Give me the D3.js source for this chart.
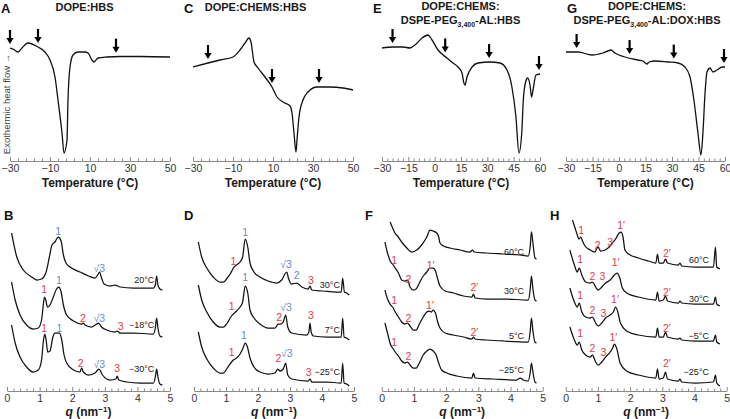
<!DOCTYPE html>
<html><head><meta charset="utf-8">
<script src="https://cdn.jsdelivr.net/npm/d3@7"></script>
<style>body{margin:0;background:#fff} svg{display:block;font-family:"Liberation Sans",Arial,sans-serif}</style>
</head><body><svg id="c" width="730" height="419"></svg>
<script>
// ---------- DSC thermograms (temperature °C, heat flow a.u.) ----------
const A_T = [-30,-28,-26,-24,-21,-16,-12.5,-10,-7.5,-6,-4,-3,-1.5,-1,0,1.5,4,7.5,9,11,12,14,18.5,25,35,50];
const A_flow = [112,110.5,108,112,117,113,108,100,83,60,27,7,20,60,93,105,108,108,107,100,98,102,103,103.5,103.5,103];
const A_arrows = [-30,-16,23];

const C_T = [-30,-22.5,-16.5,-10,-6.5,-4,-2,-1,0.5,2.5,6,9.5,12,15,18.5,19.5,20.5,21.5,22,23,25,27.5,32,38.5,45,50];
const C_flow = [93,97,100,103,110,117,122,118,98,92,83,73,63,58,54,47,27,8,20,43,60,68,73,73,72,70];
const C_arrows = [-22.5,9.5,33];

const E_T = [-30,-23.7,-18,-14,-11.2,-7.2,-3.8,-1.5,1.9,7,10.4,13.3,15.6,16.5,17.3,18.4,21.3,24.7,31.5,37.2,41.2,44,46.3,48,49.6,50.5,51.8,53,54.3,55.2,56.2,57.7,60];
const E_flow = [112,113,113,112,115,122,125,120,110,102,97,93,87,78,75,83,93,97,98,97,90,73,43,7,27,60,78,82,75,63,72,85,86];
const E_arrows = [-24,6,31,60];

const G_T = [-30,-23.2,-15.3,-9.1,-4.5,-2.3,3.4,10.7,13.6,15.8,17,20.4,27.7,33.4,37.3,40.2,42.4,44.7,46.4,47.5,48.7,49.8,51.5,53.2,55.5,58.3,60];
const G_flow = [108,108,105,107,110,107,103,100,99,96,98,99,98,97,93,83,60,27,5,27,67,88,92,88,90,93,93];
const G_arrows = [-24,6,31,60];

// ---------- SAXS profiles (q nm^-1, intensity a.u. incl. offset) ----------
const B1_q = [0.14,0.30,0.50,0.76,0.91,1.06,1.20,1.30,1.38,1.47,1.57,1.66,1.73,1.81,1.98,2.24,2.50,2.70,2.78,2.84,2.90,2.98,3.16,3.31,3.47,3.88,4.28,4.49,4.55,4.59,4.63,4.69,4.77];
const B1_I = [158,134,121,114,111,112,119,134,146,149,154,150,136,128,123,119,115,113,116,119,113,107,105,106,104,103,103,103,106,115,106,102,101];
const B2_q = [0.14,0.25,0.40,0.60,0.81,0.96,1.06,1.12,1.15,1.19,1.24,1.32,1.42,1.52,1.59,1.66,1.73,1.83,2.04,2.29,2.34,2.39,2.60,2.75,2.81,2.90,3.06,3.31,3.38,3.47,3.88,4.49,4.55,4.59,4.63,4.69,4.77];
const B2_I = [109,91,76,66,62,63,71,88,94,91,84,86,94,102,104,99,86,76,70,67,68,66,64,67,68,64,61,59,60,58,58,57,63,73,63,55,54];
const B3_q = [0.14,0.25,0.40,0.60,0.81,0.96,1.06,1.12,1.16,1.20,1.25,1.32,1.40,1.47,1.54,1.61,1.68,1.75,1.83,2.04,2.24,2.29,2.34,2.50,2.70,2.82,2.93,3.16,3.34,3.38,3.43,3.67,4.08,4.49,4.55,4.59,4.63,4.69,4.77];
const B3_I = [66,48,34,24,19,21,31,51,57,51,39,40,53,58,58,58,51,36,28,21,19,23,19,16,18,22,16,11,12,15,11,9,8,8,14,22,14,7,6];

const D1_q = [0.135,0.24,0.40,0.60,0.81,0.92,1.04,1.15,1.23,1.33,1.44,1.52,1.60,1.68,1.75,1.875,2.06,2.32,2.58,2.74,2.84,2.90,2.95,3.05,3.21,3.37,3.57,3.625,3.68,4.04,4.46,4.60,4.646,4.70,4.77,4.85];
const D1_I = [149,134,123,114,109,109,113,118,123,126,129,134,152,144,128,119,114,110,108,111,117,119,113,107,108,104,102,105,101,100,99,99,113,99,98,96];
const D2_q = [0.135,0.24,0.40,0.60,0.81,0.92,1.04,1.15,1.23,1.33,1.44,1.52,1.60,1.68,1.75,1.875,2.06,2.32,2.53,2.635,2.71,2.79,2.865,2.93,3.05,3.52,3.59,3.625,3.66,3.73,4.15,4.60,4.646,4.69,4.77,4.85];
const D2_I = [106,91,79,69,64,64,68,74,77,80,84,89,105,98,81,73,67,63,63,67,67,69,76,64,58,56,59,68,59,55,54,54,73,54,53,51];
const D3_q = [0.135,0.24,0.40,0.60,0.81,0.92,1.04,1.15,1.23,1.33,1.44,1.52,1.60,1.67,1.75,1.875,2.06,2.32,2.53,2.615,2.69,2.79,2.865,2.93,3.05,3.57,3.625,3.68,4.15,4.60,4.646,4.69,4.77,4.85];
const D3_I = [59,44,32,23,18,18,23,28,31,33,37,42,48,44,33,24,19,17,18,22,20,22,28,16,12,10,12,9,9,8,28,8,7,5];

const F1_q = [0.26,0.34,0.41,0.49,0.62,0.78,0.93,1.09,1.24,1.40,1.50,1.60,1.71,1.77,1.81,1.92,2.12,2.43,2.74,2.82,2.87,3.26,3.78,4.30,4.55,4.61,4.65,4.71,4.76,4.81];
const F1_I = [169,163,158,155,149,143,139,141,146,154,161,160,158,154,148,145,143,141,139,141,139,138,137,136,135,144,159,144,133,132];
const F2_q = [0.10,0.18,0.28,0.36,0.42,0.52,0.62,0.72,0.80,0.88,0.98,1.07,1.17,1.29,1.40,1.50,1.60,1.67,1.73,1.81,1.97,2.23,2.54,2.80,2.85,2.90,3.26,3.78,4.55,4.61,4.65,4.70,4.76,4.81];
const F2_I = [149,138,129,126,123,118,111,110,111,104,101,102,108,115,119,123,123,120,113,105,100,98,95,94,97,93,92,92,91,101,115,101,91,90];
const F3_q = [0.10,0.18,0.28,0.36,0.42,0.52,0.62,0.72,0.80,0.88,0.98,1.07,1.17,1.29,1.40,1.48,1.54,1.60,1.67,1.73,1.81,1.97,2.23,2.54,2.80,2.85,2.90,3.26,3.78,4.55,4.61,4.65,4.70,4.76,4.81];
const F3_I = [101,92,86,83,79,74,69,67,68,65,61,61,67,74,79,80,79,81,78,70,63,58,56,54,52,54,52,51,50,49,59,73,59,49,48];
const F4_q = [0.10,0.18,0.28,0.36,0.42,0.52,0.62,0.72,0.80,0.88,0.98,1.07,1.17,1.29,1.40,1.50,1.60,1.69,1.77,1.86,2.02,2.33,2.80,2.85,2.90,3.47,4.19,4.30,4.40,4.55,4.61,4.65,4.70,4.76,4.81];
const F4_I = [68,58,46,42,39,35,30,28,29,26,23,23,28,36,40,42,40,36,28,21,18,15,13,18,13,12,11,13,11,10,18,28,18,9,8];

const H1_q = [0.21,0.29,0.36,0.41,0.47,0.52,0.60,0.76,0.91,0.97,1.01,1.08,1.22,1.35,1.45,1.55,1.66,1.72,1.78,1.84,1.95,2.26,2.57,2.80,2.85,2.90,3.03,3.10,3.16,3.50,3.55,3.60,4.02,4.59,4.65,4.69,4.79];
const H1_I = [171,163,156,152,154,150,145,141,139,143,144,140,141,144,148,152,158,159,154,141,137,133,130,128,137,128,128,132,128,126,128,125,124,124,144,124,122];
const H2_q = [0.13,0.27,0.36,0.42,0.50,0.62,0.76,0.83,0.93,1.01,1.12,1.24,1.38,1.51,1.59,1.68,1.76,1.89,2.26,2.80,2.85,2.90,3.03,3.10,3.16,3.50,3.55,3.60,4.02,4.59,4.65,4.69,4.79];
const H2_I = [141,126,119,123,116,109,108,109,104,101,104,108,111,116,118,113,103,98,94,91,99,90,91,95,90,88,90,88,87,87,94,87,85];
const H3_q = [0.13,0.27,0.36,0.42,0.50,0.62,0.76,0.83,0.93,1.01,1.12,1.24,1.38,1.48,1.55,1.61,1.70,1.89,2.26,2.80,2.85,2.90,3.03,3.10,3.16,3.50,3.55,3.60,4.02,4.59,4.65,4.69,4.79];
const H3_I = [103,89,84,88,79,74,73,74,68,65,68,73,76,79,84,80,68,60,56,54,63,54,54,59,54,52,53,51,50,50,56,49,47];
const H4_q = [0.13,0.27,0.36,0.42,0.50,0.62,0.76,0.83,0.93,1.01,1.12,1.24,1.38,1.46,1.51,1.58,1.69,1.89,2.26,2.80,2.85,2.90,3.03,3.10,3.16,3.50,3.55,3.60,4.02,4.59,4.65,4.69,4.79];
const H4_I = [64,51,46,49,41,36,34,36,29,26,29,34,39,43,47,43,28,20,16,13,22,12,13,19,12,10,12,9,8,9,16,8,5];

// ---------- peak indexing labels (L = lamellar, H = hexagonal) ----------
const B_lab_q = [1.57,2.83,1.14,1.59,2.33,2.83,3.49,1.14,1.61,2.26,2.83,3.38];
const B_lab_I = [160,123,102,111,73,73,65,63,63,28,27,23];
const B_lab_text = ['1','√3','1','1','2','√3','3','1','1','2','√3','3'];
const B_lab_phase = ['H','H','L','H','L','H','L','L','H','L','H','L'];
const B_temps = ['20°C','−18°C','−30°C'];
const B_temp_I = [111,66,22];

const D_lab_q = [1.23,1.60,2.875,3.21,3.65,1.18,1.60,2.66,2.875,3.65,1.18,1.56,2.64,2.9,3.58];
const D_lab_I = [130,159,127,116,111,85,114,74,84,76,39,56,33,38,19];
const D_lab_text = ['1','1','√3','2','3','1','1','2','√3','3','1','1','2','√3','3'];
const D_lab_phase = ['L','H','H','H','L','L','H','L','H','L','L','H','L','H','L'];
const D_temps = ['30°C','7°C','−25°C'];
const D_temp_I = [106,61,19];

const F_lab_q = [0.39,0.83,1.52,2.88,0.39,0.83,1.50,2.88,0.39,0.83];
const F_lab_I = [131,112,126,104,91,73,86,59,49,35];
const F_lab_text = ['1','2','1′','2′','1','2','1′','2′','1','2'];
const F_lab_phase = ['L','L','L','L','L','L','L','L','L','L'];
const F_temps = ['60°C','30°C','5°C','−25°C'];
const F_temp_I = [139,100,55,21];

const H_lab_q = [0.48,0.99,1.38,1.72,3.14,0.45,0.83,1.14,1.55,3.14,0.45,0.83,1.17,1.53,3.14,0.45,0.83,1.17,1.48,3.14];
const H_lab_I = [161,146,149,166,138,132,115,115,129,99,96,81,78,92,63,58,43,39,54,28];
const H_lab_text = ['1','2','3','1′','2′','1','2','3','1′','2′','1','2','3','1′','2′','1','2','3','1′','2′'];
const H_lab_phase = H_lab_text.map(() => 'L');
const H_temps = ['60°C','30°C','−5°C','−25°C'];
const H_temp_I = [131,92,55,19];

// ---------- drawing ----------
const svg = d3.select('#c');
const RED = '#e23a4f', BLUE = '#7389c4', AXC = '#8a8a8a', TXT = '#1a1a1a';

function bottomAxis(g, x, y0, majorStep, minorStep) {
  const d = x.domain();
  const major = d3.range(d[0], d[1] + 1e-9, majorStep);
  const minor = d3.range(d[0], d[1] + 1e-9, minorStep).filter(v => !major.some(m => Math.abs(m - v) < 1e-6));
  const ga = g.append('g').attr('transform', `translate(0,${y0})`)
    .call(d3.axisBottom(x).tickValues(major).tickSize(-4).tickSizeOuter(0).tickPadding(4).tickFormat(d3.format('d')));
  ga.select('.domain').attr('stroke', AXC);
  ga.selectAll('.tick line').attr('stroke', AXC);
  ga.selectAll('.tick text').attr('font-size', 10.5).attr('fill', '#333').attr('font-family', '"Liberation Sans",Arial,sans-serif');
  const gm = g.append('g').attr('transform', `translate(0,${y0})`)
    .call(d3.axisBottom(x).tickValues(minor).tickSize(-2.5).tickSizeOuter(0).tickFormat(''));
  gm.select('.domain').remove();
  gm.selectAll('.tick line').attr('stroke', AXC);
}

function letter(txt, x, y) {
  svg.append('text').attr('x', x).attr('y', y).text(txt)
    .attr('font-size', 13).attr('font-weight', 'bold').attr('fill', '#111');
}

// DSC panels
const dscPanels = [
  {L:'A', T:A_T, f:A_flow, arr:A_arrows, dom:[-30,50], r:[10,170], maj:20, min:4, lx:1, t1:null, t2:'DOPE:HBS', tc:84.5},
  {L:'C', T:C_T, f:C_flow, arr:C_arrows, dom:[-30,50], r:[193,353], maj:20, min:4, lx:184, t1:null, t2:'DOPE:CHEMS:HBS', tc:255.5},
  {L:'E', T:E_T, f:E_flow, arr:E_arrows, dom:[-30,60], r:[382,540], maj:15, min:3, lx:373, t1:'DOPE:CHEMS:', sub:['DSPE-PEG','3,400','-AL:HBS'], tc:460.5},
  {L:'G', T:G_T, f:G_flow, arr:G_arrows, dom:[-30,60], r:[566,725], maj:15, min:3, lx:567, t1:'DOPE:CHEMS:', sub:['DSPE-PEG','3,400','-AL:DOX:HBS'], tc:647}
];
dscPanels.forEach((p, i) => {
  const g = svg.append('g');
  const x = d3.scaleLinear().domain(p.dom).range(p.r);
  const y = d3.scaleLinear().domain([0,130]).range([160,30]);
  bottomAxis(g, x, 161, p.maj, p.min);
  g.append('text').attr('x', (p.r[0]+p.r[1])/2).attr('y', 187).attr('text-anchor','middle')
    .attr('font-size', 12).attr('font-weight','bold').attr('fill', TXT).text('Temperature (°C)');
  const pts = p.T.map((t, k) => [t, p.f[k]]);
  g.append('path').datum(pts).attr('fill','none').attr('stroke','#111').attr('stroke-width',1.3)
    .attr('d', d3.line().x(d => x(d[0])).y(d => y(d[1])).curve(d3.curveMonotoneX));
  const interp = d3.scaleLinear().domain(p.T).range(p.f).clamp(true);
  p.arr.forEach(t => {
    const cx = Math.min(x(t), p.r[1] - 1);
    const tip = y(interp(t)) - 4;
    g.append('line').attr('x1', cx).attr('x2', cx).attr('y1', tip - 14).attr('y2', tip - 5)
      .attr('stroke','#000').attr('stroke-width',2.2);
    g.append('path').attr('d', `M${cx-3.6},${tip-6}L${cx+3.6},${tip-6}L${cx},${tip}Z`).attr('fill','#000');
  });
  letter(p.L, p.lx, 13);
  if (p.t1) {
    g.append('text').attr('x', p.tc).attr('y', 10).attr('text-anchor','middle')
      .attr('font-size', 11).attr('font-weight','bold').attr('fill', TXT).text(p.t1);
    const t = g.append('text').attr('x', p.tc).attr('y', 24).attr('text-anchor','middle')
      .attr('font-size', 11).attr('font-weight','bold').attr('fill', TXT);
    t.append('tspan').text(p.sub[0]);
    t.append('tspan').attr('dy', 3).attr('font-size', 7).text(p.sub[1]);
    t.append('tspan').attr('dy', -3).text(p.sub[2]);
  } else {
    g.append('text').attr('x', p.tc).attr('y', 11).attr('text-anchor','middle')
      .attr('font-size', 11).attr('font-weight','bold').attr('fill', TXT).text(p.t2);
  }
  if (i === 0) {
    svg.append('text').attr('transform','translate(10,104) rotate(-90)').attr('text-anchor','middle')
      .attr('font-size', 9.5).attr('fill','#444').text('Exothermic heat flow →');
  }
});

// SAXS panels
const saxsPanels = [
  {L:'B', lx:4, r:[7,170], tr:[[B1_q,B1_I],[B2_q,B2_I],[B3_q,B3_I]], lq:B_lab_q, lI:B_lab_I, lt:B_lab_text, lp:B_lab_phase, temps:B_temps, tI:B_temp_I, tq:4.52},
  {L:'D', lx:184, r:[194,354], tr:[[D1_q,D1_I],[D2_q,D2_I],[D3_q,D3_I]], lq:D_lab_q, lI:D_lab_I, lt:D_lab_text, lp:D_lab_phase, temps:D_temps, tI:D_temp_I, tq:4.56},
  {L:'F', lx:365, r:[381.7,542.7], tr:[[F1_q,F1_I],[F2_q,F2_I],[F3_q,F3_I],[F4_q,F4_I]], lq:F_lab_q, lI:F_lab_I, lt:F_lab_text, lp:F_lab_phase, temps:F_temps, tI:F_temp_I, tq:4.42},
  {L:'H', lx:550, r:[565.7,726.7], tr:[[H1_q,H1_I],[H2_q,H2_I],[H3_q,H3_I],[H4_q,H4_I]], lq:H_lab_q, lI:H_lab_I, lt:H_lab_text, lp:H_lab_phase, temps:H_temps, tI:H_temp_I, tq:4.45}
];
saxsPanels.forEach(p => {
  const g = svg.append('g');
  const x = d3.scaleLinear().domain([0,5]).range(p.r);
  const y = d3.scaleLinear().domain([0,180]).range([391,211]);
  bottomAxis(g, x, 391, 1, 0.2);
  const at = g.append('text').attr('x', (p.r[0]+p.r[1])/2).attr('y', 416).attr('text-anchor','middle')
    .attr('font-size', 12).attr('font-weight','bold').attr('fill', TXT);
  at.append('tspan').attr('font-style','italic').text('q');
  at.append('tspan').text(' (nm');
  at.append('tspan').attr('dy', -4).attr('font-size', 8).text('−1');
  at.append('tspan').attr('dy', 4).text(')');
  const line = d3.line().x(d => x(d[0])).y(d => y(d[1])).curve(d3.curveMonotoneX);
  p.tr.forEach(([q, I]) => {
    g.append('path').datum(q.map((v, k) => [v, I[k]])).attr('fill','none')
      .attr('stroke','#111').attr('stroke-width',1.25).attr('d', line);
  });
  p.lq.forEach((q, k) => {
    g.append('text').attr('x', x(q)).attr('y', y(p.lI[k])).attr('dy','0.35em').attr('text-anchor','middle')
      .attr('font-size', 10.5).attr('fill', p.lp[k] === 'H' ? BLUE : RED).text(p.lt[k]);
  });
  p.temps.forEach((t, k) => {
    g.append('text').attr('x', x(p.tq)).attr('y', y(p.tI[k])).attr('dy','0.35em').attr('text-anchor','end')
      .attr('font-size', 9).attr('fill', TXT).text(t);
  });
  letter(p.L, p.lx, 220);
});
</script></body></html>
